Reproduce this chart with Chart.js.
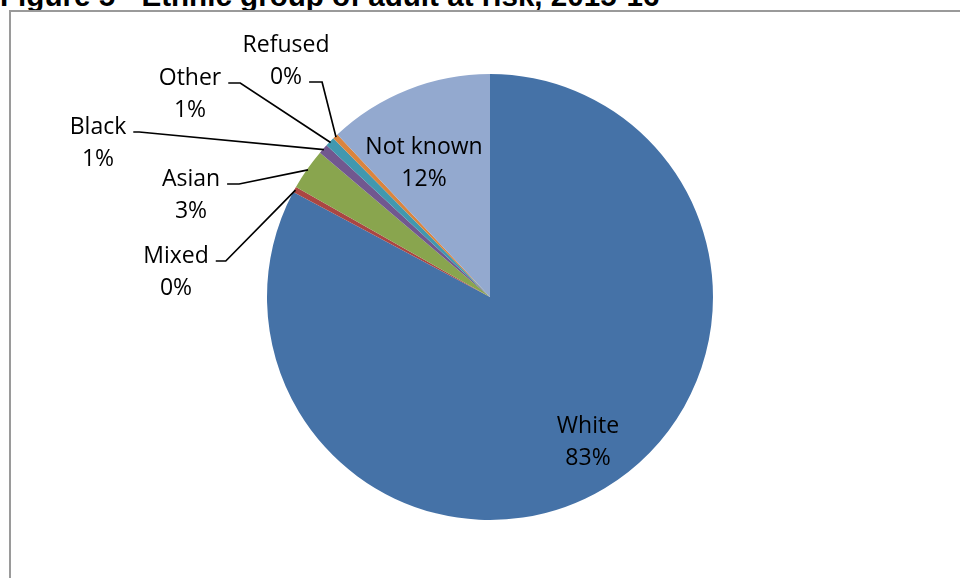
<!DOCTYPE html>
<html>
<head>
<meta charset="utf-8">
<script src="https://cdn.jsdelivr.net/npm/chart.js@4/dist/chart.umd.min.js"></script>
<style>
  html, body { margin: 0; padding: 0; background: #fff; overflow: hidden; }
  #wrap { position: relative; width: 960px; height: 578px; }
  #title {
    position: absolute; left: 0; top: -19px; white-space: nowrap;
    font: bold 29.6px "Liberation Sans", Arial, sans-serif; line-height: 30px; color: #000;
  }
  #frame {
    position: absolute; left: 9px; top: 10px; width: 1000px; height: 700px;
    border: 2px solid #9a9a9a; box-sizing: border-box;
  }
  canvas { position: absolute; left: 0; top: 0; }
</style>
</head>
<body>
<div id="wrap">
  <div id="title">Figure 5 - Ethnic group of adult at risk, 2015-16</div>
  <div id="frame"></div>
  <canvas id="pie" width="960" height="578"></canvas>
</div>
<script>
// data (percent of adults at risk)
const categories = ["White", "Mixed", "Asian", "Black", "Other", "Refused", "Not known"];
const values = [82.8, 0.4, 3.0, 0.7, 0.7, 0.4, 12.0];
const colors = ["#4572A7", "#AA4643", "#89A54E", "#71588F", "#4198AF", "#DB843D", "#93A9CF"];

// where each data label sits (centre x, first-line baseline y); leader: which line the leader leaves from
const labelLayout = {
  "White":     { x: 588, y: 433 },
  "Mixed":     { x: 176, y: 263, leader: 1, elbow: 10 },
  "Asian":     { x: 191, y: 186, leader: 1, elbow: 12 },
  "Black":     { x: 98,  y: 134, leader: 1, elbow: 6 },
  "Other":     { x: 190, y: 85,  leader: 1, elbow: 12 },
  "Refused":   { x: 286, y: 52,  leader: 2, elbow: 13 },
  "Not known": { x: 424, y: 154 }
};
const lineGap = 32;

const sliceLabels = {
  id: "sliceLabels",
  afterDatasetsDraw(chart) {
    const ctx = chart.ctx;
    const meta = chart.getDatasetMeta(0);
    const total = values.reduce((a, b) => a + b, 0);
    ctx.save();
    ctx.font = '23px "Open Sans"';
    ctx.fillStyle = "#000";
    ctx.strokeStyle = "#000";
    ctx.lineWidth = 1.7;
    ctx.textAlign = "center";
    ctx.textBaseline = "alphabetic";
    meta.data.forEach((arc, i) => {
      const pos = labelLayout[categories[i]];
      const pct = Math.round(values[i] / total * 100) + "%";
      ctx.fillText(categories[i], pos.x, pos.y);
      ctx.fillText(pct, pos.x, pos.y + lineGap);
      if (pos.leader) {
        const p = arc.getProps(["x", "y", "startAngle", "endAngle", "outerRadius"], true);
        const mid = (p.startAngle + p.endAngle) / 2;
        const ex = p.x + Math.cos(mid) * (p.outerRadius - 1);
        const ey = p.y + Math.sin(mid) * (p.outerRadius - 1);
        const txt = pos.leader === 2 ? pct : categories[i];
        const sx = pos.x + ctx.measureText(txt).width / 2 + 7;
        const sy = pos.y + (pos.leader === 2 ? lineGap : 0) - 2;
        ctx.beginPath();
        ctx.moveTo(sx, sy);
        ctx.lineTo(sx + pos.elbow, sy);
        ctx.lineTo(ex, ey);
        ctx.stroke();
      }
    });
    ctx.restore();
  }
};

function draw() {
  new Chart(document.getElementById("pie"), {
    type: "pie",
    data: {
      labels: categories,
      datasets: [{
        data: values,
        backgroundColor: colors,
        borderWidth: 0
      }]
    },
    options: {
      responsive: false,
      animation: false,
      layout: { padding: { left: 267, right: 247, top: 74, bottom: 58 } },
      plugins: { legend: { display: false }, tooltip: { enabled: false } }
    },
    plugins: [sliceLabels]
  });
}

document.fonts.load('23px "Open Sans"').then(draw, draw);
</script>
</body>
</html>
